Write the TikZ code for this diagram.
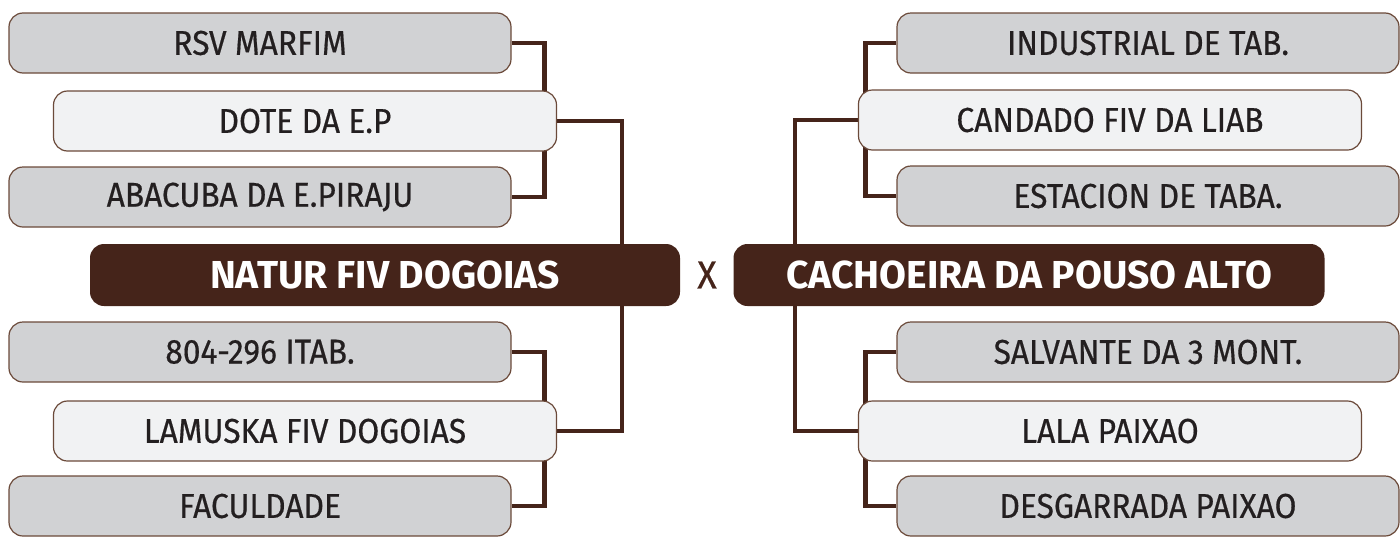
\documentclass[tikz,border=0pt]{standalone}
\usepackage{fontspec}
\setmainfont{Fira Sans}
\newfontfamily\hopfont{Fira Sans}[FakeStretch=0.92,FakeBold=0.5]
\usetikzlibrary{backgrounds}
\definecolor{nau}{HTML}{45241A}
\definecolor{vien}{HTML}{6B4A3A}
\definecolor{xam}{HTML}{D1D2D4}
\definecolor{nhat}{HTML}{F1F2F3}
\definecolor{chu}{HTML}{231F20}
\tikzset{
	hop/.style={draw=vien,line width=1.2pt,rounded corners=14pt,minimum height=60pt,
		text=chu,font=\hopfont\fontsize{34.5}{36}\selectfont},
	hopxam/.style={hop,fill=xam,minimum width=502pt},
	hopnhat/.style={hop,fill=nhat,minimum width=503pt},
	doi/.style={fill=nau,rounded corners=14pt,minimum height=62pt,text=white,
		font=\fontsize{39}{42}\selectfont\bfseries},
	noi/.style={draw=nau,line width=4.5pt}
}
\begin{document}
\begin{tikzpicture}[line join = round, line cap = rect,x=1pt,y=-1pt]
		%Hai bảng đấu - nhánh trái, nhánh phải.
		\useasboundingbox (0,0) rectangle (1400,536);
		\node[doi,minimum width=590pt] (natur) at (385,275) {NATUR FIV DOGOIAS};
		\node[doi,minimum width=591pt] (cachoeira) at (1029,275) {CACHOEIRA DA POUSO ALTO};
		\node[text=nau,font=\hopfont\fontsize{39}{42}\selectfont] (x) at (707,275) {X};
		\foreach \n/\p/\t in {rsv/{(260,43)}/RSV MARFIM,aba/{(260,197)}/ABACUBA DA E.PIRAJU,
			itab/{(260,352)}/804-296 ITAB.,facul/{(260,506)}/FACULDADE,
			indus/{(1148,43)}/INDUSTRIAL DE TAB.,estac/{(1148,196)}/ESTACION DE TABA.,
			salv/{(1148,352)}/SALVANTE DA 3 MONT.,desg/{(1148,506)}/DESGARRADA PAIXAO}
		\node[hopxam] (\n) at \p {\t};
		\foreach \n/\p/\t in {dote/{(305,121)}/DOTE DA E.P,lamuska/{(305,431)}/LAMUSKA FIV DOGOIAS,
			candado/{(1110,120)}/CANDADO FIV DA LIAB,lala/{(1110,431)}/LALA PAIXAO}
		\node[hopnhat] (\n) at \p {\t};
		\begin{scope}[on background layer]
			\draw[noi] (rsv.east)--++(33,0)|-(aba.east);
			\draw[noi] (itab.east)--++(33,0)|-(facul.east);
			\draw[noi] (dote.east)--++(65,0)|-(lamuska.east);
			\draw[noi] (indus.west)--++(-31,0)|-(estac.west);
			\draw[noi] (salv.west)--++(-31,0)|-(desg.west);
			\draw[noi] (candado.west)--++(-63,0)|-(lala.west);
		\end{scope}
	\end{tikzpicture}
\end{document}
